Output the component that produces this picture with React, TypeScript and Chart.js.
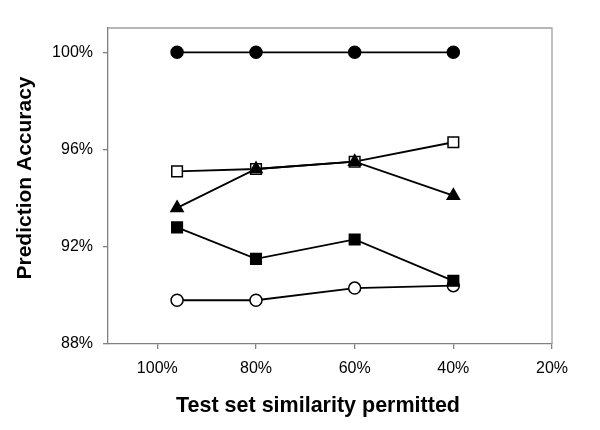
import React, { useEffect, useRef } from "react";
import { Chart, registerables } from "chart.js";

Chart.register(...registerables);

const similarity = [96, 80, 60, 40];
const filledCircle = [100, 100, 100, 100];
const openSquare = [95.1, 95.2, 95.5, 96.3];
const filledTriangle = [93.6, 95.2, 95.5, 94.1];
const filledSquare = [92.8, 91.5, 92.3, 90.6];
const openCircle = [89.8, 89.8, 90.3, 90.4];
const xTicks = [100, 80, 60, 40, 20];
const yTicks = [88, 92, 96, 100];
const xTitle = "Test set similarity permitted";
const yTitle = "Prediction Accuracy";

const FONT = "'Liberation Sans', Arial, sans-serif";

const frame = {
  id: "frame",
  afterDatasetsDraw(chart: any) {
    const { ctx, chartArea: a } = chart;
    ctx.save();
    ctx.strokeStyle = "#a0a0a0";
    ctx.lineWidth = 1.3;
    ctx.beginPath();
    ctx.moveTo(a.left, a.top);
    ctx.lineTo(a.right, a.top);
    ctx.lineTo(a.right, a.bottom);
    ctx.stroke();
    ctx.restore();
  },
};

const titles = {
  id: "titles",
  afterDraw(chart: any) {
    const { ctx, chartArea: a } = chart;
    ctx.save();
    ctx.fillStyle = "#000";
    ctx.textAlign = "center";
    ctx.textBaseline = "middle";
    ctx.font = `bold 21.5px ${FONT}`;
    ctx.fillText(xTitle, (a.left + a.right) / 2 - 12, a.bottom + 62);
    ctx.translate(a.left - 83, (a.top + a.bottom) / 2 - 8);
    ctx.rotate(-Math.PI / 2);
    ctx.font = `bold 21px ${FONT}`;
    ctx.fillText(yTitle, 0, 0);
    ctx.restore();
  },
};

function pts(ys: number[]) {
  return ys.map((y, i) => ({ x: similarity[i], y }));
}

export default function App() {
  const ref = useRef<HTMLCanvasElement>(null);
  useEffect(() => {
    const base = {
      borderColor: "#000",
      borderWidth: 1.8,
      pointBorderColor: "#000",
      pointBorderWidth: 1.5,
      showLine: true,
      fill: false,
    };
    const chart = new Chart(ref.current!, {
      type: "scatter",
      data: {
        datasets: [
          { ...base, label: "Triangle", data: pts(filledTriangle), pointStyle: "triangle", pointRadius: 7, pointBackgroundColor: "#000" },
          { ...base, label: "Filled square", data: pts(filledSquare), pointStyle: "rect", pointRadius: 7.5, pointBackgroundColor: "#000" },
          { ...base, label: "Filled circle", data: pts(filledCircle), pointStyle: "circle", pointRadius: 6, pointBackgroundColor: "#000" },
          { ...base, label: "Open square", data: pts(openSquare), pointStyle: "rect", pointRadius: 7.5, pointBackgroundColor: "#fff" },
          { ...base, label: "Open circle", data: pts(openCircle), pointStyle: "circle", pointRadius: 6, pointBackgroundColor: "#fff" },
        ] as any,
      },
      options: {
        responsive: false,
        animation: false,
        layout: { padding: { left: 8, right: 48, top: 28, bottom: 5 } },
        plugins: { legend: { display: false }, tooltip: { enabled: false } },
        scales: {
          x: {
            type: "linear",
            reverse: true,
            min: 20,
            max: 110,
            afterBuildTicks: (s: any) => { s.ticks = xTicks.map((v) => ({ value: v })); },
            afterFit: (s: any) => { s.height = 81; },
            border: { color: "#808080", width: 1.3 },
            grid: { drawOnChartArea: false, drawTicks: true, tickLength: 5, color: "#808080", lineWidth: 1.3 },
            ticks: { color: "#000", font: { family: FONT, size: 16 }, padding: 10, callback: (v: any) => v + "%" },
          },
          y: {
            type: "linear",
            min: 88,
            max: 101,
            afterBuildTicks: (s: any) => { s.ticks = yTicks.map((v) => ({ value: v })); },
            afterFit: (s: any) => { s.width = 100; },
            border: { color: "#808080", width: 1.3 },
            grid: { drawOnChartArea: false, drawTicks: true, tickLength: 5, color: "#808080", lineWidth: 1.3 },
            ticks: { color: "#000", font: { family: FONT, size: 16 }, padding: 10, callback: (v: any) => v + "%" },
          },
        },
      },
      plugins: [frame, titles],
    });
    return () => chart.destroy();
  }, []);
  return (
    <div style={{ position: "fixed", left: 0, top: 0, width: 600, height: 430, background: "#fff" }}>
      <canvas ref={ref} width={600} height={430} />
    </div>
  );
}
